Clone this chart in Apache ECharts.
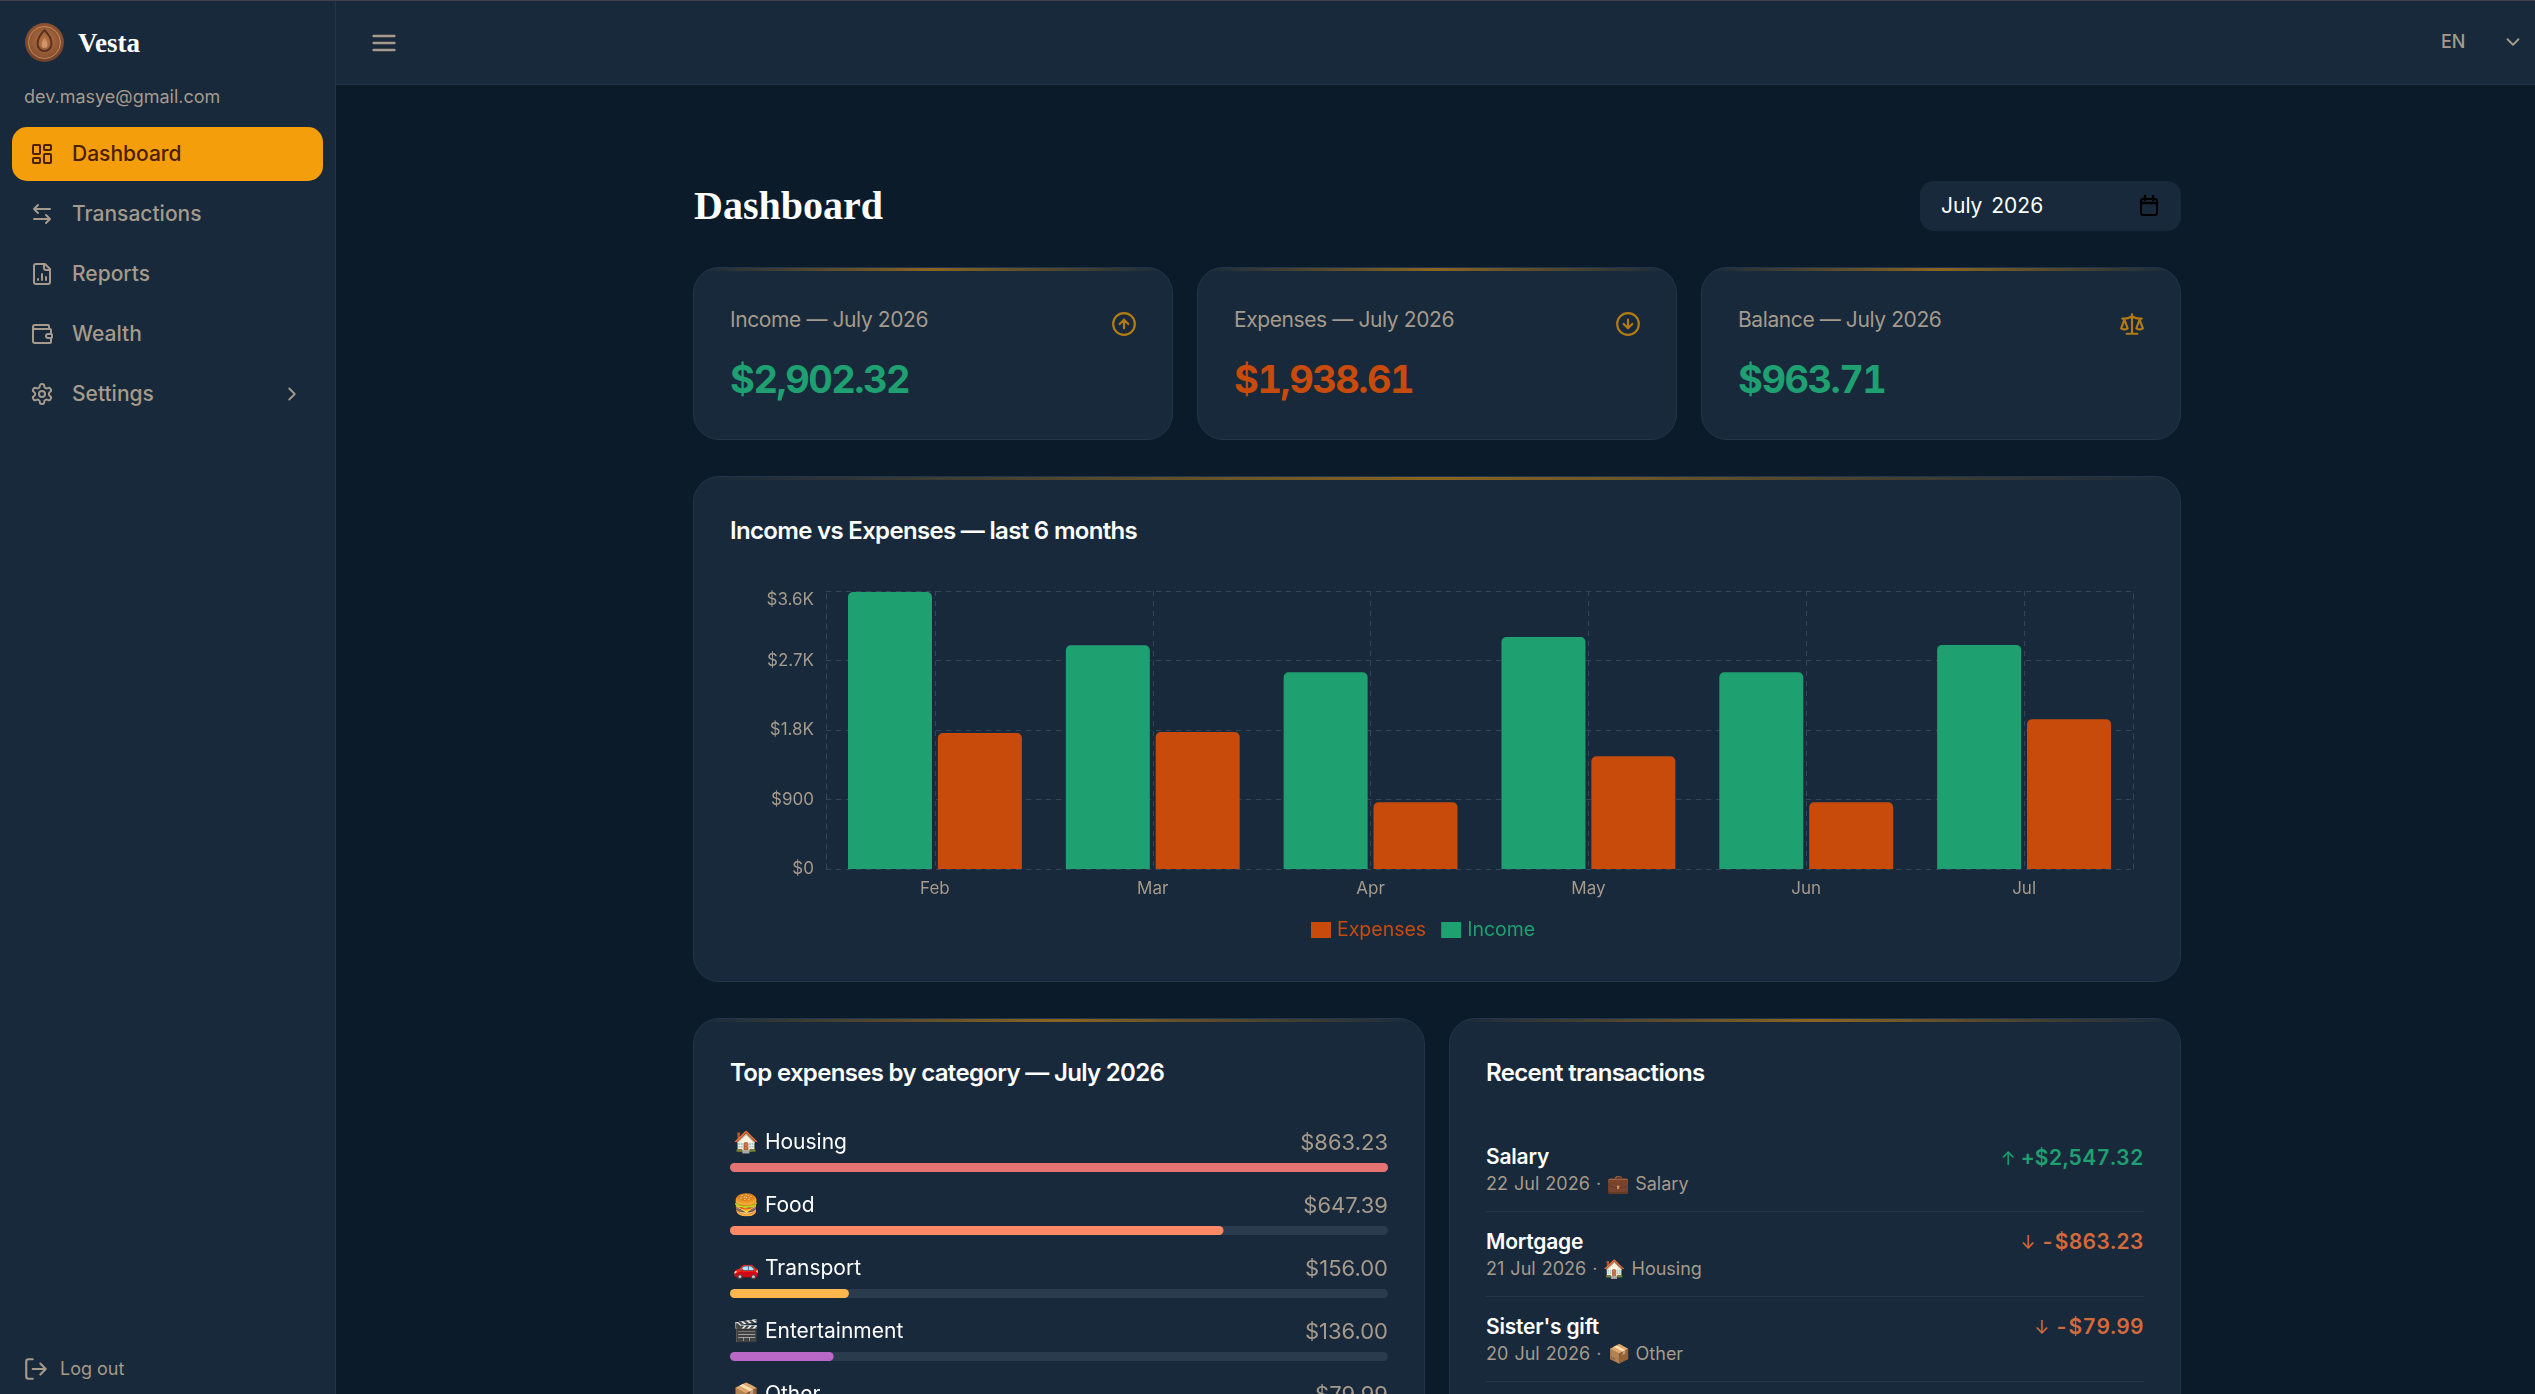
<!DOCTYPE html>
<html>
<head>
<meta charset="utf-8">
<title>Vesta</title>
<script src="https://cdn.jsdelivr.net/npm/echarts@6/dist/echarts.min.js"></script>
<style>
  html, body { margin: 0; width: 2535px; height: 1394px; overflow: hidden; background: #0c1b2a; font-family: Inter, "Noto Sans", sans-serif; }
  .t { position: absolute; white-space: nowrap; line-height: 1; }
  .mid { transform: translateY(-50%); }
  .right { transform: translate(-100%, -50%); }
  svg { position: absolute; fill: none; stroke: currentColor; stroke-width: 2; stroke-linecap: round; stroke-linejoin: round; }
  #sidebar { position: absolute; left: 0; top: 0; width: 335px; height: 1394px; background: #17293b; border-right: 1px solid #22354a; }
  #topbar { position: absolute; left: 336px; top: 0; width: 2199px; height: 84px; background: #17293b; border-bottom: 1px solid #22354a; }
  #topline { position: absolute; left: 0; top: 0; width: 2535px; height: 1px; background: #3d4347; z-index: 5; }
  .nav { color: #a59a8b; font-size: 21px; font-weight: 500; }
  .panel { position: absolute; box-sizing: border-box; background: #17293b; border: 1px solid #22354a; border-radius: 26px; overflow: hidden; }
  .panel::before { content: ""; position: absolute; left: 0; right: 0; top: -1px; height: 4px; background: linear-gradient(90deg, rgba(138,101,32,0), #8a6520 50%, rgba(138,101,32,0)); }
  .serif { font-family: "Liberation Serif", serif; font-weight: 700; color: #fff; }
  .h { color: #fff; font-size: 24px; font-weight: 600; letter-spacing: -0.68px; }
  .lab { color: #a59a8b; font-size: 21px; letter-spacing: -0.4px; }
  .val { font-size: 38px; font-weight: 700; letter-spacing: -1.5px; font-variant-numeric: tabular-nums; }
  .tx { color: #fff; font-size: 21px; font-weight: 600; letter-spacing: -0.2px; }
  .sub { color: #a59a8b; font-size: 18px; word-spacing: 1px; }
  .amt { font-size: 21px; font-weight: 600; letter-spacing: 0.3px; font-variant-numeric: tabular-nums; }
  .amt span { font-size: 18px; font-weight: 400; margin-right: 5px; }
  .sep { position: absolute; left: 1486px; width: 658px; height: 1px; background: #22354a; }
  .amber { color: #b27b13; }
  #incomeChart, #categoryChart { position: absolute; }
</style>
</head>
<body>
<div id="topline"></div>
<div id="sidebar"></div>
<div id="topbar"></div>

<!-- logo -->
<svg style="left:25px;top:23px;stroke:none" width="39" height="39" viewBox="0 0 39 39">
  <defs><radialGradient id="coin" cx="50%" cy="45%" r="55%"><stop offset="0" stop-color="#b87444"/><stop offset="0.75" stop-color="#8c5232"/><stop offset="1" stop-color="#6a3d26"/></radialGradient></defs>
  <circle cx="19.5" cy="19.5" r="19.5" fill="url(#coin)"/>
  <circle cx="19.5" cy="19.5" r="16" fill="none" stroke="#c08a5e" stroke-width="1"/>
  <path d="M19.5 7c4 5 7 8 7 14a7 7 0 0 1-14 0c0-6 3-9 7-14z" fill="none" stroke="#5b3120" stroke-width="2"/>
  <path d="M19.5 15c2 3 3 4 3 7a3 3 0 0 1-6 0c0-3 1-4 3-7z" fill="#d0946a"/>
</svg>
<div class="t mid serif" style="left:78px;top:43px;font-size:27px">Vesta</div>
<div class="t mid" style="left:24px;top:97px;font-size:18px;color:#a59a8b">dev.masye@gmail.com</div>

<!-- nav -->
<div style="position:absolute;left:12px;top:127px;width:311px;height:54px;border-radius:15px;background:#f59e0b"></div>
<svg style="left:30px;top:142px;color:#4a2000" width="24" height="24" viewBox="0 0 24 24"><rect x="3" y="3" width="7" height="9" rx="1"/><rect x="14" y="3" width="7" height="5" rx="1"/><rect x="14" y="12" width="7" height="9" rx="1"/><rect x="3" y="16" width="7" height="5" rx="1"/></svg>
<div class="t mid nav" style="left:72px;top:153px;color:#4a2000">Dashboard</div>
<svg style="left:30px;top:202px;color:#a59a8b" width="24" height="24" viewBox="0 0 24 24"><path d="M8 3 4 7l4 4M4 7h16M16 21l4-4-4-4M20 17H4"/></svg>
<div class="t mid nav" style="left:72px;top:213px">Transactions</div>
<svg style="left:30px;top:262px;color:#a59a8b" width="24" height="24" viewBox="0 0 24 24"><path d="M15 2H6a2 2 0 0 0-2 2v16a2 2 0 0 0 2 2h12a2 2 0 0 0 2-2V7ZM14 2v4a2 2 0 0 0 2 2h4M8 18v-1M12 18v-6M16 18v-3"/></svg>
<div class="t mid nav" style="left:72px;top:273px">Reports</div>
<svg style="left:30px;top:322px;color:#a59a8b" width="24" height="24" viewBox="0 0 24 24"><path d="M19 7V4a1 1 0 0 0-1-1H5a2 2 0 0 0 0 4h15a1 1 0 0 1 1 1v4h-3a2 2 0 0 0 0 4h3a1 1 0 0 0 1-1v-2a1 1 0 0 0-1-1M3 5v14a2 2 0 0 0 2 2h15a1 1 0 0 0 1-1v-4"/></svg>
<div class="t mid nav" style="left:72px;top:333px">Wealth</div>
<svg style="left:30px;top:382px;color:#a59a8b" width="24" height="24" viewBox="0 0 24 24"><path d="M12.22 2h-.44a2 2 0 0 0-2 2v.18a2 2 0 0 1-1 1.73l-.43.25a2 2 0 0 1-2 0l-.15-.08a2 2 0 0 0-2.73.73l-.22.38a2 2 0 0 0 .73 2.73l.15.1a2 2 0 0 1 1 1.72v.51a2 2 0 0 1-1 1.74l-.15.09a2 2 0 0 0-.73 2.73l.22.38a2 2 0 0 0 2.73.73l.15-.08a2 2 0 0 1 2 0l.43.25a2 2 0 0 1 1 1.73V20a2 2 0 0 0 2 2h.44a2 2 0 0 0 2-2v-.18a2 2 0 0 1 1-1.73l.43-.25a2 2 0 0 1 2 0l.15.08a2 2 0 0 0 2.73-.73l.22-.39a2 2 0 0 0-.73-2.73l-.15-.08a2 2 0 0 1-1-1.74v-.5a2 2 0 0 1 1-1.74l.15-.09a2 2 0 0 0 .73-2.73l-.22-.38a2 2 0 0 0-2.73-.73l-.15.08a2 2 0 0 1-2 0l-.43-.25a2 2 0 0 1-1-1.73V4a2 2 0 0 0-2-2z"/><circle cx="12" cy="12" r="3"/></svg>
<div class="t mid nav" style="left:72px;top:393px">Settings</div>
<svg style="left:281px;top:383px;color:#a59a8b" width="22" height="22" viewBox="0 0 24 24"><path d="m9 18 6-6-6-6"/></svg>
<svg style="left:23px;top:1356px;color:#a59a8b" width="26" height="26" viewBox="0 0 24 24"><path d="M9 21H5a2 2 0 0 1-2-2V5a2 2 0 0 1 2-2h4M16 17l5-5-5-5M21 12H9"/></svg>
<div class="t mid" style="left:60px;top:1369px;font-size:18px;color:#a59a8b">Log out</div>

<!-- top bar -->
<svg style="left:370px;top:29px;color:#a59a8b" width="28" height="28" viewBox="0 0 24 24"><path d="M3 6h18M3 12h18M3 18h18"/></svg>
<div class="t mid" style="left:2441px;top:42px;font-size:18px;font-weight:500;color:#a59a8b">EN</div>
<svg style="left:2502px;top:31px;color:#a59a8b" width="22" height="22" viewBox="0 0 24 24"><path d="m6 9 6 6 6-6"/></svg>

<!-- heading -->
<div class="t mid serif" style="left:694px;top:206px;font-size:40px">Dashboard</div>
<div style="position:absolute;left:1920px;top:181px;width:261px;height:50px;border-radius:14px;background:#17293b"></div>
<div class="t mid" style="left:1941px;top:205px;font-size:21px;color:#fff;word-spacing:3px">July 2026</div>
<svg style="left:2137px;top:194px;color:#000;stroke:#000" width="24" height="24" viewBox="0 0 24 24"><rect x="4" y="5" width="16" height="16" rx="2"/><path d="M4 9h16M8 2v4M16 2v4" stroke-width="2.4"/></svg>

<!-- summary cards -->
<div class="panel" style="left:693px;top:267px;width:480px;height:173px"></div>
<div class="t mid lab" style="left:730px;top:319px">Income — July 2026</div>
<div class="t mid val" style="left:730px;top:379px;color:#1fa071">$2,902.32</div>
<svg class="amber" style="left:1111px;top:311px" width="26" height="26" viewBox="0 0 24 24"><circle cx="12" cy="12" r="10"/><path d="m16 12-4-4-4 4M12 16V8"/></svg>

<div class="panel" style="left:1197px;top:267px;width:480px;height:173px"></div>
<div class="t mid lab" style="left:1234px;top:319px">Expenses — July 2026</div>
<div class="t mid val" style="left:1234px;top:379px;color:#c84b0c">$1,938.61</div>
<svg class="amber" style="left:1615px;top:311px" width="26" height="26" viewBox="0 0 24 24"><circle cx="12" cy="12" r="10"/><path d="M12 8v8M8 12l4 4 4-4"/></svg>

<div class="panel" style="left:1701px;top:267px;width:480px;height:173px"></div>
<div class="t mid lab" style="left:1738px;top:319px">Balance — July 2026</div>
<div class="t mid val" style="left:1738px;top:379px;color:#1fa071">$963.71</div>
<svg class="amber" style="left:2119px;top:311px" width="26" height="26" viewBox="0 0 24 24"><path d="m16 16 3-8 3 8c-.87.65-1.92 1-3 1s-2.13-.35-3-1ZM2 16l3-8 3 8c-.87.65-1.92 1-3 1s-2.13-.35-3-1ZM7 21h10M12 3v18M3 7h2c2 0 5-1 7-2 2 1 5 2 7 2h2"/></svg>

<!-- income vs expenses -->
<div class="panel" style="left:693px;top:476px;width:1488px;height:506px"></div>
<div class="t mid h" style="left:730px;top:531px">Income vs Expenses — last 6 months</div>
<div id="incomeChart" style="left:693px;top:476px;width:1488px;height:506px"></div>

<!-- categories -->
<div class="panel" style="left:693px;top:1018px;width:732px;height:500px"></div>
<div class="t mid h" style="left:730px;top:1073px">Top expenses by category — July 2026</div>
<div id="categoryChart" style="left:730px;top:1096px;width:658px;height:355px"></div>

<!-- recent transactions -->
<div class="panel" style="left:1449px;top:1018px;width:732px;height:500px"></div>
<div class="t mid h" style="left:1486px;top:1073px">Recent transactions</div>

<div class="t mid tx" style="left:1486px;top:1156px">Salary</div>
<div class="t mid sub" style="left:1486px;top:1184px">22 Jul 2026 · 💼 Salary</div>
<div class="t right amt" style="left:2144px;top:1157px;color:#1fa071"><span>↑</span>+$2,547.32</div>
<div class="sep" style="top:1211px"></div>

<div class="t mid tx" style="left:1486px;top:1241px">Mortgage</div>
<div class="t mid sub" style="left:1486px;top:1269px">21 Jul 2026 · 🏠 Housing</div>
<div class="t right amt" style="left:2144px;top:1241px;color:#d4693a"><span>↓</span>-$863.23</div>
<div class="sep" style="top:1296px"></div>

<div class="t mid tx" style="left:1486px;top:1326px">Sister's gift</div>
<div class="t mid sub" style="left:1486px;top:1354px">20 Jul 2026 · 📦 Other</div>
<div class="t right amt" style="left:2144px;top:1326px;color:#d4693a"><span>↓</span>-$79.99</div>
<div class="sep" style="top:1381px"></div>

<script>
var months = ["Feb", "Mar", "Apr", "May", "Jun", "Jul"];
var incomeValues = [3587, 2896, 2547.32, 3004, 2547.32, 2902.32];
var expenseValues = [1761, 1774, 863.23, 1459, 863.23, 1938.61];

var categoryNames = ["Housing", "Food", "Transport", "Entertainment", "Other"];
var categoryIcons = ["🏠", "🍔", "🚗", "🎬", "📦"];
var categoryAmounts = [863.23, 647.39, 156.0, 136.0, 79.99];
var categoryColors = ["#e57373", "#ff8a65", "#ffb74d", "#ba68c8", "#90a4ae"];

var GREEN = "#1fa071";
var ORANGE = "#c84b0c";
var MUTED = "#a59a8b";
var GRID = "#33475c";
var FONT = 'Inter, "Noto Sans", sans-serif';

var gridLine = { color: GRID, width: 1, type: [5, 5] };

// 收支柱状图
var incomeChart = echarts.init(document.getElementById("incomeChart"));
incomeChart.setOption({
  animation: false,
  textStyle: { fontFamily: FONT },
  grid: { left: 133, right: 48, top: 115, bottom: 113 },
  legend: {
    left: 618,
    top: 444,
    padding: 0,
    itemWidth: 20,
    itemHeight: 16,
    itemGap: 15,
    selectedMode: false,
    icon: "rect",
    textStyle: { fontSize: 19.5, fontFamily: FONT, padding: [0, 0, 0, 1] },
    data: [
      { name: "Expenses", textStyle: { color: ORANGE } },
      { name: "Income", textStyle: { color: GREEN } },
    ],
  },
  xAxis: {
    type: "category",
    data: months,
    axisLine: { show: false },
    axisTick: { show: false },
    axisLabel: { color: MUTED, fontSize: 17, margin: 11 },
    splitLine: { show: true, alignWithLabel: true, lineStyle: gridLine },
  },
  yAxis: [
    {
      type: "value",
      min: 0,
      max: 3600,
      interval: 900,
      axisLine: { show: true, lineStyle: gridLine },
      axisTick: { show: false },
      axisLabel: {
        color: MUTED,
        fontSize: 17,
        margin: 12,
        verticalAlignMaxLabel: "top",
        formatter: function (v) {
          return v >= 1000 ? "$" + v / 1000 + "K" : "$" + v;
        },
      },
      splitLine: { show: true, lineStyle: gridLine },
    },
    {
      // 右侧边框
      type: "value",
      position: "right",
      min: 0,
      max: 3600,
      interval: 900,
      axisLine: { show: true, lineStyle: gridLine },
      axisTick: { show: false },
      axisLabel: { show: false },
      splitLine: { show: false },
    },
  ],
  series: [
    {
      name: "Income",
      type: "bar",
      data: incomeValues,
      barWidth: 84,
      barGap: "7%",
      itemStyle: { color: GREEN, borderRadius: [5, 5, 0, 0] },
    },
    {
      name: "Expenses",
      type: "bar",
      data: expenseValues,
      barWidth: 84,
      itemStyle: { color: ORANGE, borderRadius: [5, 5, 0, 0] },
    },
  ],
});

// 分类进度条
var maxAmount = categoryAmounts[0];
var categoryChart = echarts.init(document.getElementById("categoryChart"));
categoryChart.setOption({
  animation: false,
  textStyle: { fontFamily: FONT },
  grid: { left: 0, right: 0, top: 40, bottom: 0 },
  xAxis: { type: "value", min: 0, max: maxAmount, show: false },
  yAxis: { type: "category", inverse: true, data: categoryNames, show: false },
  series: [
    {
      type: "bar",
      barWidth: 9,
      data: categoryAmounts.map(function () { return maxAmount; }),
      itemStyle: { color: "#2a3b4e", borderRadius: 5 },
      label: {
        show: true,
        position: ["100%", -20],
        align: "right",
        verticalAlign: "middle",
        color: MUTED,
        fontSize: 22,
        fontFamily: FONT,
        formatter: function (p) {
          return "$" + categoryAmounts[p.dataIndex].toFixed(2);
        },
      },
    },
    {
      type: "bar",
      barWidth: 9,
      barGap: "-100%",
      data: categoryAmounts.map(function (v, i) {
        return { value: v, itemStyle: { color: categoryColors[i] } };
      }),
      itemStyle: { borderRadius: 5 },
      label: {
        show: true,
        position: [3, -20],
        align: "left",
        verticalAlign: "middle",
        color: "#fff",
        fontSize: 21,
        fontFamily: FONT,
        formatter: function (p) {
          return categoryIcons[p.dataIndex] + " " + categoryNames[p.dataIndex];
        },
      },
    },
  ],
});
</script>
</body>
</html>
